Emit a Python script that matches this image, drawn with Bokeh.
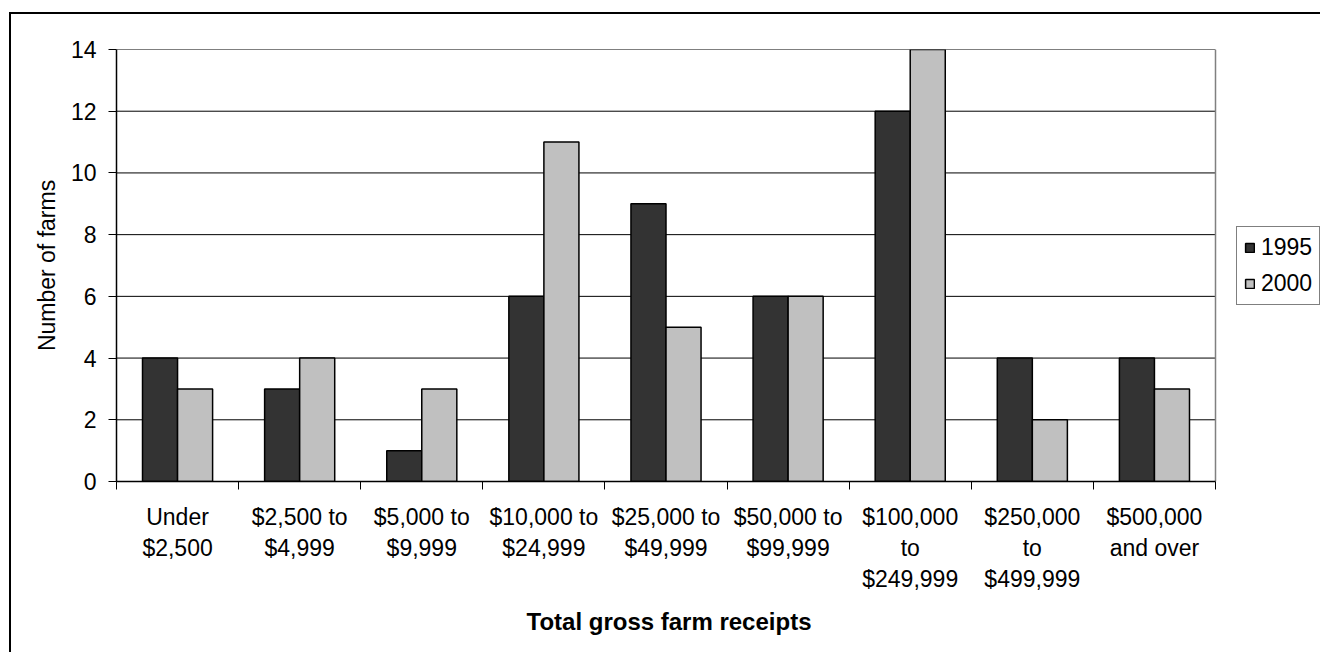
from bokeh.plotting import figure
from bokeh.models import FixedTicker, Legend, LegendItem, ColumnDataSource, Range1d, Title
from bokeh.embed import file_html
from bokeh.resources import INLINE

categories = ["Under\n$2,500", "$2,500 to\n$4,999", "$5,000 to\n$9,999",
              "$10,000 to\n$24,999", "$25,000 to\n$49,999", "$50,000 to\n$99,999",
              "$100,000\nto\n$249,999", "$250,000\nto\n$499,999", "$500,000\nand over"]
farms_1995 = [4, 3, 1, 6, 9, 6, 12, 4, 4]
farms_2000 = [3, 4, 3, 11, 5, 6, 14, 2, 3]
y_ticks = [0, 2, 4, 6, 8, 10, 12, 14]
series_names = ["1995", "2000"]
x_title = "Total gross farm receipts"
y_title = "Number of farms"

FONT = "Liberation Sans"
FS = "23px"
BW = 0.287

N = len(categories)
FIG_W, FIG_H = 1320, 652
B_LEFT, B_TOP, B_BOTTOM = 116, 49, 171
PLOT_PX = 1099                       # width of the bar area in pixels
FRAME_PX = FIG_W - B_LEFT            # frame runs to the right edge (legend lives inside)
X_END = N * FRAME_PX / PLOT_PX

centers = [i + 0.5 for i in range(N)]
src = ColumnDataSource(dict(
    x1=[c - BW / 2 for c in centers],
    x2=[c + BW / 2 for c in centers],
    v1=farms_1995,
    v2=farms_2000,
))
grid_src = ColumnDataSource(dict(
    x0=[0] * (len(y_ticks) - 1), x1=[N] * (len(y_ticks) - 1),
    y=y_ticks[1:],
))

p = figure(width=FIG_W, height=FIG_H, output_backend="svg", toolbar_location=None,
           x_range=Range1d(0, X_END), y_range=Range1d(0, y_ticks[-1]),
           min_border_left=B_LEFT, min_border_right=0, min_border_top=B_TOP,
           min_border_bottom=B_BOTTOM)
p.border_fill_color = None
p.styles = {
    "background": "linear-gradient(#000,#000) 9px 12px / 2px 100% no-repeat, "
                  "linear-gradient(#000,#000) 9px 12px / 100% 2px no-repeat, #fff"
}
p.outline_line_color = None
p.xgrid.visible = False
p.ygrid.visible = False

# horizontal gridlines and right edge of the plot area
p.segment(x0="x0", x1="x1", y0="y", y1="y", source=grid_src,
          line_color="black", line_width=1)
p.segment(x0=[N], x1=[N], y0=[0], y1=[y_ticks[-1]],
          line_color="#808080", line_width=1.5)

r1 = p.vbar(x="x1", top="v1", width=BW, bottom=0, source=src,
            fill_color="#333333", line_color="black", line_width=1.5)
r2 = p.vbar(x="x2", top="v2", width=BW, bottom=0, source=src,
            fill_color="#C0C0C0", line_color="black", line_width=1.5)

xa = p.xaxis[0]
xa.bounds = (0, N)
xa.ticker = FixedTicker(ticks=centers, minor_ticks=list(range(N + 1)))
xa.major_label_overrides = {c: lab for c, lab in zip(centers, categories)}
xa.major_tick_out = 0
xa.major_tick_in = 0
xa.minor_tick_out = 8
xa.minor_tick_in = 0
xa.minor_tick_line_color = "black"
xa.axis_line_color = "black"
xa.axis_line_width = 1.5
xa.major_label_text_font = FONT
xa.major_label_text_font_size = FS
xa.major_label_text_color = "black"
xa.major_label_standoff = 14

xt = Title(text=x_title, align="left", offset=410, vertical_align="top",
           standoff=26, text_font=FONT, text_font_size="24px",
           text_font_style="bold", text_color="black")
p.add_layout(xt, "below")

ya = p.yaxis[0]
ya.ticker = FixedTicker(ticks=y_ticks)
ya.major_tick_out = 8
ya.major_tick_in = 0
ya.minor_tick_line_color = None
ya.axis_line_color = "black"
ya.axis_line_width = 1.5
ya.major_label_text_font = FONT
ya.major_label_text_font_size = FS
ya.major_label_text_color = "black"
ya.major_label_standoff = 12
ya.axis_label = y_title
ya.axis_label_text_font = FONT
ya.axis_label_text_font_size = FS
ya.axis_label_text_font_style = "normal"
ya.axis_label_text_color = "black"
ya.axis_label_standoff = 8

legend = Legend(items=[LegendItem(label=series_names[0], renderers=[r1]),
                       LegendItem(label=series_names[1], renderers=[r2])],
                location=(PLOT_PX + 21, 176))
legend.margin = 0
legend.label_text_font = FONT
legend.label_text_font_size = FS
legend.label_text_color = "black"
legend.glyph_width = 11
legend.glyph_height = 11
legend.label_standoff = 6
legend.padding = 7
legend.spacing = 9
legend.border_line_color = "black"
legend.border_line_width = 1
legend.background_fill_alpha = 1
p.add_layout(legend, "center")

open("out.html", "w").write(file_html(p, INLINE))
